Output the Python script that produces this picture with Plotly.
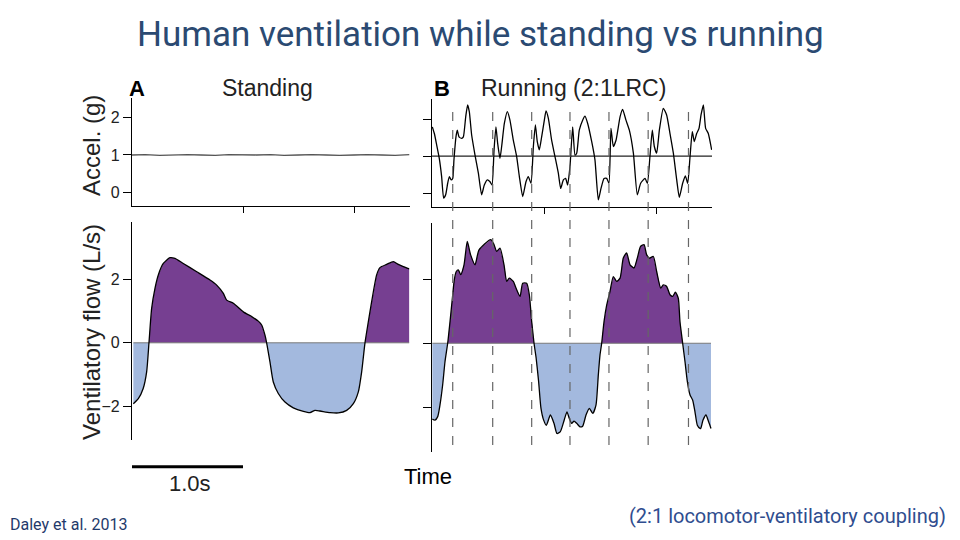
import plotly.graph_objects as go

# ---------------- data ----------------
# Panel A (standing) accelerometer, g
accel_a_t = [0.00, 0.12, 0.25, 0.37, 0.50, 0.62, 0.75, 0.87, 1.00, 1.12, 1.25, 1.37, 1.50,
             1.62, 1.75, 1.87, 2.00, 2.12, 2.25, 2.37, 2.50]
accel_a_g = [1.00, 1.01, 0.99, 1.00, 1.01, 1.00, 0.99, 1.01, 1.00, 1.00, 1.01, 0.99, 1.00,
             1.01, 1.00, 0.99, 1.00, 1.01, 1.00, 0.99, 1.01]

# Panel A (standing) ventilatory flow, L/s
flow_a_t = [0.012, 0.057, 0.10, 0.132, 0.153, 0.177, 0.207, 0.237, 0.282, 0.342, 0.387, 0.462,
            0.583, 0.703, 0.763, 0.823, 0.853, 0.913, 1.003, 1.078, 1.138, 1.168, 1.198, 1.213,
            1.243, 1.273, 1.318, 1.378, 1.453, 1.544, 1.604, 1.649, 1.694, 1.784, 1.859, 1.934,
            1.994, 2.039, 2.069, 2.099, 2.129, 2.159, 2.204, 2.234, 2.294, 2.354, 2.399, 2.444, 2.498]
flow_a_v = [-1.91, -1.75, -1.44, -0.91, 0.00, 1.08, 1.71, 2.13, 2.49, 2.67, 2.65, 2.49,
            2.23, 1.97, 1.81, 1.55, 1.34, 1.24, 0.97, 0.82, 0.68, 0.56, 0.24, 0.00,
            -0.60, -1.23, -1.59, -1.86, -2.04, -2.15, -2.19, -2.12, -2.14, -2.19, -2.20, -2.12,
            -1.91, -1.54, -0.91, 0.00, 0.66, 1.29, 2.13, 2.36, 2.46, 2.55, 2.46, 2.39, 2.32]

# Panel B (running) accelerometer, g
accel_b_t = [0.003, 0.021, 0.042, 0.065, 0.086, 0.104, 0.122, 0.140, 0.155, 0.170,
             0.185, 0.196, 0.214, 0.226, 0.241, 0.265, 0.280, 0.301, 0.318, 0.333,
             0.354, 0.384, 0.414, 0.443, 0.467, 0.494, 0.518, 0.536, 0.554, 0.571,
             0.586, 0.607, 0.622, 0.646, 0.673, 0.696, 0.726, 0.756, 0.780, 0.810,
             0.839, 0.860, 0.884, 0.905, 0.923, 0.940, 0.958, 0.979, 1.003, 1.018,
             1.039, 1.068, 1.098, 1.128, 1.149, 1.173, 1.193, 1.211, 1.232, 1.256,
             1.277, 1.292, 1.315, 1.345, 1.366, 1.390, 1.426, 1.455, 1.485, 1.509,
             1.536, 1.560, 1.580, 1.598, 1.619, 1.643, 1.679, 1.702, 1.732, 1.762,
             1.798, 1.833, 1.863, 1.902, 1.923, 1.946, 1.967, 1.985, 2.006, 2.030,
             2.065, 2.095, 2.125, 2.155, 2.185, 2.208, 2.238, 2.262, 2.283, 2.304,
             2.324, 2.342, 2.363, 2.384, 2.402, 2.423, 2.443, 2.467, 2.497]
accel_b_g = [1.79, 1.61, 1.30, 0.94, 0.45, -0.13, -0.04, 0.27, 0.45, 0.36,
             0.40, 0.90, 1.52, 1.70, 1.52, 1.48, 1.52, 2.06, 2.38, 2.20,
             1.57, 1.03, 0.54, -0.04, 0.22, 0.36, 0.31, 0.22, 1.17, 1.79,
             1.35, 0.94, 1.26, 1.88, 2.20, 1.97, 1.43, 0.99, 0.45, -0.09,
             0.31, 0.45, 0.27, 1.26, 1.84, 1.39, 1.17, 1.52, 1.97, 2.22,
             2.02, 1.43, 0.99, 0.54, 0.13, 0.36, 0.40, 0.22, 0.72, 1.79,
             1.03, 1.08, 1.70, 1.97, 2.08, 1.88, 1.39, 0.90, -0.18, 0.13,
             0.40, 0.40, 0.27, 1.75, 1.26, 1.43, 2.06, 2.26, 1.97, 1.70,
             1.08, -0.04, 0.27, 0.40, 0.27, 0.99, 1.70, 1.26, 1.08, 1.70,
             2.29, 2.11, 1.61, 1.08, 0.36, -0.11, 0.27, 0.47, 0.27, 0.99,
             1.66, 1.39, 1.61, 1.75, 2.11, 2.38, 1.75, 1.61, 1.17]

# Panel B (running) ventilatory flow, L/s
flow_b_t = [0.003, 0.027, 0.051, 0.071, 0.095, 0.116, 0.140, 0.161, 0.185, 0.199, 0.217, 0.235,
            0.256, 0.286, 0.315, 0.345, 0.384, 0.420, 0.524, 0.554, 0.577, 0.607, 0.643, 0.667,
            0.690, 0.726, 0.750, 0.786, 0.810, 0.845, 0.869, 0.890, 0.911, 0.930, 0.952, 0.973,
            0.997, 1.021, 1.057, 1.089, 1.116, 1.146, 1.176, 1.205, 1.226, 1.247, 1.268, 1.292,
            1.321, 1.345, 1.375, 1.405, 1.435, 1.464, 1.485, 1.500, 1.515, 1.536, 1.560, 1.589,
            1.619, 1.649, 1.679, 1.708, 1.738, 1.768, 1.804, 1.833, 1.863, 1.893, 1.917, 1.940,
            1.976, 2.006, 2.042, 2.065, 2.095, 2.125, 2.149, 2.173, 2.199, 2.214, 2.238, 2.259,
            2.280, 2.304, 2.327, 2.348, 2.369, 2.393, 2.399, 2.420, 2.446, 2.470, 2.491]
flow_b_v = [-2.38, -2.41, -2.30, -1.94, -1.31, -0.58, 0.00, 0.68, 1.52, 1.99, 2.25, 2.30,
            2.15, 2.46, 3.19, 2.77, 2.46, 2.93, 3.25, 3.09, 2.88, 2.98, 2.46, 1.94,
            2.04, 1.94, 1.73, 1.47, 1.88, 1.88, 1.52, 0.68, 0.00, -0.47, -1.20, -2.04,
            -2.41, -2.57, -2.25, -2.51, -2.83, -2.77, -2.46, -2.15, -2.36, -2.51, -2.44, -2.51,
            -2.62, -2.60, -2.25, -2.04, -2.20, -1.94, -0.99, -0.37, 0.00, 0.68, 1.20, 1.62,
            2.09, 1.94, 2.04, 2.67, 2.83, 2.46, 2.36, 2.67, 3.04, 3.09, 2.77, 2.67,
            2.72, 2.25, 1.73, 1.83, 1.78, 1.52, 1.47, 1.60, 1.41, 0.68, 0.00, -0.58,
            -1.20, -1.62, -1.78, -2.15, -2.57, -2.67, -2.67, -2.41, -2.25, -2.46, -2.67]

# footfall times (dashed lines), s
footfall_t = [0.185, 0.542, 0.890, 1.232, 1.580, 1.930, 2.290]

x_ticks = [1, 2]
accel_ticks = [0, 1, 2]
flow_ticks = [-2, 0, 2]
scale_bar_s = [0, 1]

# ---------------- figure ----------------
PURPLE = "#763F91"
LBLUE = "#A3B9DE"
FONT = "Liberation Sans, Arial, sans-serif"

fig = go.Figure()


def add_flow(t, v, xa, ya):
    pos = [max(val, 0) for val in v]
    neg = [min(val, 0) for val in v]
    fig.add_trace(go.Scatter(x=t, y=neg, mode="lines", line=dict(width=0), fill="tozeroy",
                             fillcolor=LBLUE, xaxis=xa, yaxis=ya, hoverinfo="skip"))
    fig.add_trace(go.Scatter(x=t, y=pos, mode="lines", line=dict(width=0), fill="tozeroy",
                             fillcolor=PURPLE, xaxis=xa, yaxis=ya, hoverinfo="skip"))
    fig.add_trace(go.Scatter(x=[t[0], t[-1]], y=[0, 0], mode="lines",
                             line=dict(color="#7a7a7a", width=1), xaxis=xa, yaxis=ya))
    fig.add_trace(go.Scatter(x=t, y=v, mode="lines", line=dict(color="black", width=1.3,
                                                                 shape="spline", smoothing=0.6),
                             xaxis=xa, yaxis=ya))


# accel A
fig.add_trace(go.Scatter(x=accel_a_t, y=accel_a_g, mode="lines",
                         line=dict(color="#555555", width=1.3), xaxis="x", yaxis="y"))
# accel B
fig.add_trace(go.Scatter(x=[0, 2.5], y=[1, 1], mode="lines",
                         line=dict(color="#222222", width=1.2), xaxis="x2", yaxis="y2"))
fig.add_trace(go.Scatter(x=accel_b_t, y=accel_b_g, mode="lines",
                         line=dict(color="black", width=1.3, shape="spline", smoothing=0.5),
                         xaxis="x2", yaxis="y2"))
# flows
add_flow(flow_a_t, flow_a_v, "x3", "y3")
add_flow(flow_b_t, flow_b_v, "x4", "y4")

W, H = 960, 540


def px(xp):
    return xp / W


def py(yp):
    return 1 - yp / H


xA = [px(132), px(409.5)]
xB = [px(432), px(712)]
axis_common = dict(showgrid=False, zeroline=False, showline=True, linecolor="black",
                   linewidth=1.2, ticks="outside", tickcolor="black", tickwidth=1.2,
                   tickfont=dict(family=FONT, size=16, color="#222222"))

fig.update_layout(
    width=W, height=H, margin=dict(l=0, r=0, t=0, b=0),
    paper_bgcolor="white", plot_bgcolor="white", showlegend=False,
    xaxis=dict(domain=xA, range=[0, 2.5], anchor="y", tickvals=x_ticks, ticklen=6,
               showticklabels=False, **axis_common),
    xaxis2=dict(domain=xB, range=[0, 2.5], anchor="y2", tickvals=x_ticks, ticklen=6,
                showticklabels=False, **axis_common),
    xaxis3=dict(domain=xA, range=[0, 2.5], anchor="y3", visible=False),
    xaxis4=dict(domain=xB, range=[0, 2.5], anchor="y4", visible=False),
    yaxis=dict(domain=[py(206), py(98)], range=[-0.37, 2.53], anchor="x", tickvals=accel_ticks,
               ticklen=8, **axis_common),
    yaxis2=dict(domain=[py(207), py(99)], range=[-0.37, 2.54], anchor="x2", tickvals=accel_ticks,
                ticklen=8, showticklabels=False, **axis_common),
    yaxis3=dict(domain=[py(440), py(221.7)], range=[-3.05, 3.80], anchor="x3", tickvals=flow_ticks,
                ticklen=8, **axis_common),
    yaxis4=dict(domain=[py(451.7), py(223)], range=[-3.40, 3.77], anchor="x4", tickvals=flow_ticks,
                ticklen=8, showticklabels=False, **axis_common),
)

# dashed footfall lines
for ft in footfall_t:
    fig.add_shape(type="line", xref="x2", yref="paper", x0=ft, x1=ft, y0=py(445), y1=py(109),
                  line=dict(color="#666666", width=1.2, dash="dash"), layer="above")

# scale bar
fig.add_shape(type="line", xref="x3", yref="paper", x0=scale_bar_s[0], x1=scale_bar_s[1],
              y0=py(466.7), y1=py(466.7), line=dict(color="black", width=3))


def ann(text, x, y, size, color="black", family=FONT, angle=0, xanchor="center", bold=False):
    if bold:
        text = "<b>" + text + "</b>"
    fig.add_annotation(text=text, x=px(x), y=py(y), xref="paper", yref="paper", showarrow=False,
                       xanchor=xanchor, yanchor="middle", textangle=angle,
                       font=dict(family=family, size=size, color=color))


ann("Human ventilation while standing vs running", 480, 35, 35, color="#2B4A72",
    family="Roboto, sans-serif")
ann("A", 137, 88, 22, bold=True)
ann("Standing", 267, 88, 23, color="#222222")
ann("B", 441.5, 88, 22, bold=True)
ann("Running (2:1LRC)", 573, 88, 23, color="#222222")
ann("Accel. (g)", 91, 146, 24, color="#222222", angle=-90)
ann("Ventilatory flow (L/s)", 91, 332, 24, color="#222222", angle=-90)
ann("Time", 428, 476, 22)
ann("1.0s", 190, 483, 22, color="#222222")
ann("Daley et al. 2013", 8, 524, 16, color="#1F3A6B", family="Liberation Sans Narrow, Roboto, sans-serif",
    xanchor="left")
ann("(2:1 locomotor-ventilatory coupling)", 787, 516, 20, color="#2F4D8F",
    family="Roboto, sans-serif")

fig.write_html("out.html")
